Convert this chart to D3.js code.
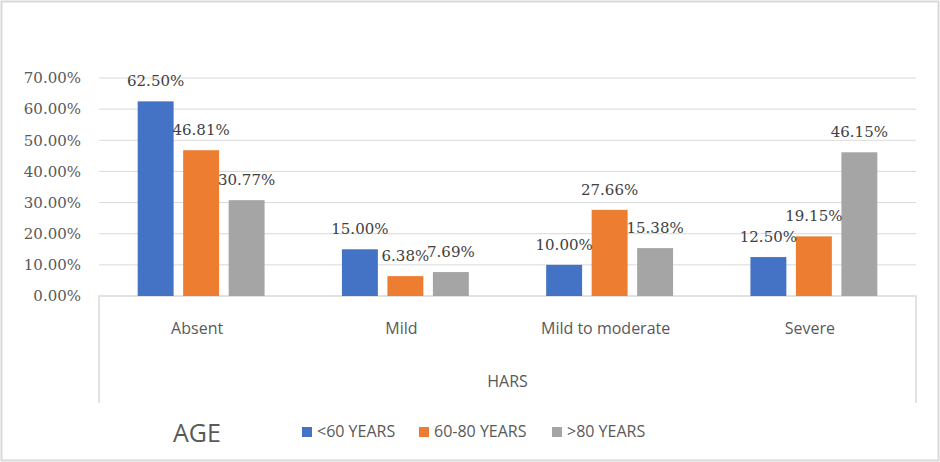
<!DOCTYPE html>
<html>
<head>
<meta charset="utf-8">
<script src="https://cdn.jsdelivr.net/npm/d3@7"></script>
<style>
  body { margin: 0; background: #fff; }
  svg { display: block; }
</style>
</head>
<body>
<div id="chart"></div>
<script>
var categories = ['Absent', 'Mild', 'Mild to moderate', 'Severe'];
var seriesNames = ['<60 YEARS', '60-80 YEARS', '>80 YEARS'];
var under60 = [62.50, 15.00, 10.00, 12.50];
var from60to80 = [46.81, 6.38, 27.66, 19.15];
var over80 = [30.77, 7.69, 15.38, 46.15];
var yTicks = [0, 10, 20, 30, 40, 50, 60, 70];
var colors = ['#4472C4', '#ED7D31', '#A5A5A5'];

var seriesValues = [under60, from60to80, over80];

var svg = d3.select('#chart').append('svg')
  .attr('width', 940)
  .attr('height', 462);

// outer chart border
svg.append('rect')
  .attr('x', 1.5).attr('y', 1.5)
  .attr('width', 937).attr('height', 459)
  .attr('fill', 'none')
  .attr('stroke', '#d9d9d9')
  .attr('stroke-width', 2);

var plotLeft = 99, plotRight = 916, plotTop = 78, plotBottom = 296;

var x0 = d3.scaleBand().domain(categories).range([plotLeft, plotRight]);
var x1 = d3.scaleBand().domain(seriesNames)
  .range([0, x0.bandwidth()])
  .paddingInner(0.21)
  .paddingOuter(0.85);
var y = d3.scaleLinear().domain([0, 70]).range([plotBottom, plotTop]);

// gridlines
svg.append('g').selectAll('line')
  .data(yTicks.filter(function(t) { return t > 0; }))
  .enter().append('line')
    .attr('x1', plotLeft).attr('x2', plotRight)
    .attr('y1', function(d) { return y(d); })
    .attr('y2', function(d) { return y(d); })
    .attr('stroke', '#d9d9d9')
    .attr('stroke-width', 1);

// y axis labels
var yAxis = svg.append('g')
  .attr('transform', 'translate(' + plotLeft + ',0)')
  .call(d3.axisLeft(y).tickValues(yTicks).tickSize(0).tickPadding(18)
    .tickFormat(function(d) { return d.toFixed(2) + '%'; }));
yAxis.select('.domain').remove();
yAxis.selectAll('text')
  .attr('font-family', 'DejaVu Serif')
  .attr('font-size', '15px')
  .attr('fill', '#595959');

// category axis box
svg.append('path')
  .attr('d', 'M' + plotLeft + ',403V' + plotBottom + 'H' + plotRight + 'V403')
  .attr('fill', 'none')
  .attr('stroke', '#d9d9d9')
  .attr('stroke-width', 1.5);

// bars
var groups = svg.append('g').selectAll('g')
  .data(categories)
  .enter().append('g')
    .attr('transform', function(d) { return 'translate(' + x0(d) + ',0)'; });

groups.selectAll('rect')
  .data(function(d, i) {
    return seriesNames.map(function(s, j) { return { name: s, value: seriesValues[j][i], color: colors[j] }; });
  })
  .enter().append('rect')
    .attr('x', function(d) { return x1(d.name); })
    .attr('y', function(d) { return y(d.value); })
    .attr('width', x1.bandwidth())
    .attr('height', function(d) { return plotBottom - y(d.value); })
    .attr('fill', function(d) { return d.color; });

groups.selectAll('text')
  .data(function(d, i) {
    return seriesNames.map(function(s, j) { return { name: s, value: seriesValues[j][i] }; });
  })
  .enter().append('text')
    .attr('x', function(d) { return x1(d.name) + x1.bandwidth() / 2; })
    .attr('y', function(d) { return y(d.value) - 15; })
    .attr('text-anchor', 'middle')
    .attr('font-family', 'DejaVu Serif')
    .attr('font-size', '15px')
    .attr('fill', '#404040')
    .text(function(d) { return d.value.toFixed(2) + '%'; });

// category labels
svg.append('g').selectAll('text')
  .data(categories)
  .enter().append('text')
    .attr('x', function(d) { return x0(d) + x0.bandwidth() / 2 - 4; })
    .attr('y', 334)
    .attr('text-anchor', 'middle')
    .attr('font-family', 'Open Sans')
    .attr('font-size', '16px')
    .attr('fill', '#595959')
    .text(function(d) { return d; });

// axis title
svg.append('text')
  .attr('x', (plotLeft + plotRight) / 2)
  .attr('y', 387)
  .attr('text-anchor', 'middle')
  .attr('font-family', 'Open Sans')
  .attr('font-size', '16px')
  .attr('fill', '#595959')
  .text('HARS');

// legend title
svg.append('text')
  .attr('x', 173)
  .attr('y', 442)
  .attr('font-family', 'Open Sans')
  .attr('font-size', '25px')
  .attr('fill', '#595959')
  .text('AGE');

// legend
var legendX = [302, 419, 552];
var legend = svg.append('g').selectAll('g')
  .data(seriesNames)
  .enter().append('g')
    .attr('transform', function(d, i) { return 'translate(' + legendX[i] + ',427)'; });
legend.append('rect')
  .attr('width', 10).attr('height', 10)
  .attr('fill', function(d, i) { return colors[i]; });
legend.append('text')
  .attr('x', 15).attr('y', 10)
  .attr('font-family', 'Open Sans')
  .attr('font-size', '16px')
  .attr('fill', '#595959')
  .text(function(d) { return d; });
</script>
</body>
</html>
